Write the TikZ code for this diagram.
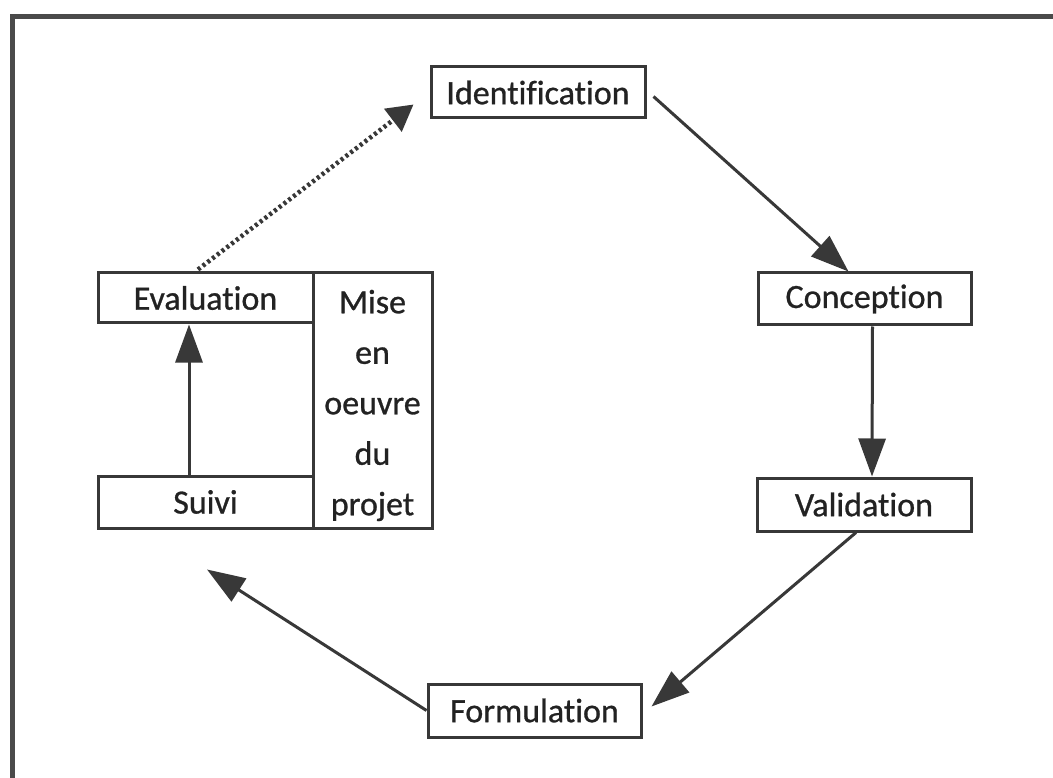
\documentclass[tikz,border=0pt]{standalone}
\usepackage{fontspec}
\setmainfont{Carlito}[Ligatures={NoCommon},UprightFeatures={FakeBold=0.8}]
\usetikzlibrary{arrows.meta}
\definecolor{ink}{HTML}{383838}
\definecolor{txt}{HTML}{222222}
\definecolor{frame}{HTML}{4A4A4A}
\begin{document}
\begin{tikzpicture}[x=1pt,y=-1pt,
  box/.style={draw=ink,line width=3pt,rectangle,inner sep=0pt,text=txt,
    font=\fontsize{34}{38}\selectfont},
  boxtext/.style={inner sep=0pt,text=txt,align=center,
    font=\fontsize{34}{50.5}\selectfont},
  conn/.style={draw=ink,line width=3pt,-{Triangle[length=38pt,width=27pt]}},
  dotconn/.style={draw=ink,line width=4.5pt,dash pattern=on 3pt off 3pt,
    -{Triangle[length=26pt,width=28pt]}}]
\useasboundingbox (0,0) rectangle (1053,778);
\fill[white] (0,0) rectangle (1053,778);
% page frame (left and top edges)
\draw[frame,line width=5.5pt] (12.5,778) -- (12.5,16.5) -- (1053,16.5);
% boxes
\node[box,minimum width=214pt,minimum height=51pt] (ident) at (538,92.5) {Identification};
\node[box,minimum width=213pt,minimum height=52pt] (conc) at (864.5,299) {Conception};
\node[box,minimum width=214pt,minimum height=53pt] (valid) at (864,504.5) {Validation};
\node[box,minimum width=213pt,minimum height=53pt] (form) at (534.5,710.5) {Formulation};
\node[box,minimum width=215pt,minimum height=50pt] (eval) at (205.5,298) {Evaluation};
\node[box,minimum width=215pt,minimum height=52pt] (suivi) at (205.5,502) {Suivi};
\node[box,minimum width=119pt,minimum height=255pt] (mise) at (372.5,400.5) {};
\node[boxtext] (misetxt) at ([yshift=-5pt]mise.center) {Mise\\en\\oeuvre\\du\\projet};
% connectors
\draw[conn] ([xshift=7pt,yshift=-4pt]ident.east) -- ([xshift=-16pt]conc.north);
\draw[conn] ([xshift=8pt]conc.south) -- ([xshift=8pt]valid.north);
\draw[conn] ([xshift=-8pt]valid.south) -- ([xshift=9pt,yshift=4pt]form.east);
\draw[conn] (form.west) -- ([xshift=1.5pt,yshift=-40pt]suivi.south);
\draw[conn] ([xshift=-16.5pt]suivi.north) -- ([xshift=-16.5pt]eval.south);
\draw[dotconn] ([xshift=-7.5pt,yshift=2pt]eval.north) -- ([xshift=-16pt,yshift=-12pt]ident.west);
\end{tikzpicture}
\end{document}
